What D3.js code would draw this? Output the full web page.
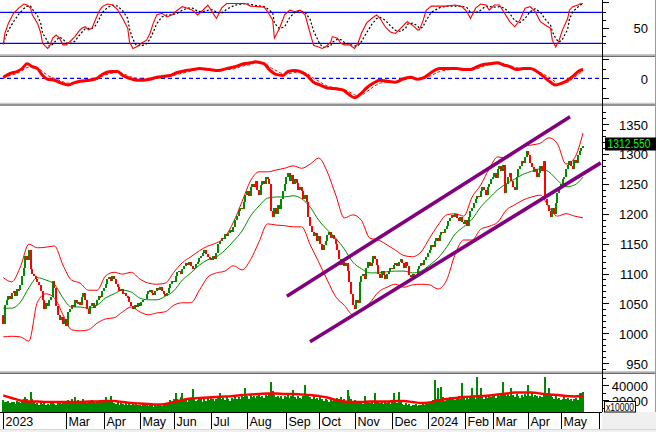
<!DOCTYPE html>
<html><head><meta charset="utf-8">
<script src="https://cdn.jsdelivr.net/npm/d3@7"></script>
<style>
body{margin:0;background:#fff;}
svg{display:block;font-family:"Liberation Sans",Arial,sans-serif;}
</style>
</head><body>
<svg id="c" width="656" height="432"></svg>
<script>
// ---------------- DATA ----------------
// daily closes (bar index 0 = first session of Jan 2023)
const closes = [
1015,1048,1055,1063,1058,1068,1070,1062,1074,1072,
1080,1095,1110,1130,1122,1140,1108,1100,1095,1090,
1085,1080,1070,1055,1040,1050,1046,1055,1060,1088,
1075,1045,1030,1022,1028,1015,1024,1012,1035,1040,
1048,1044,1055,1050,1052,1048,1060,1068,1055,1040,
1032,1045,1050,1042,1048,1055,1062,1060,1070,1075,
1082,1090,1094,1088,1096,1090,1082,1078,1070,1074,
1066,1068,1062,1060,1052,1046,1040,1048,1044,1050,
1046,1052,1055,1058,1066,1070,1072,1068,1064,1070,
1076,1072,1078,1070,1066,1062,1068,1075,1082,1088,
1085,1095,1102,1105,1100,1108,1112,1118,1115,1120,
1112,1108,1110,1116,1120,1126,1130,1135,1140,1132,
1128,1125,1122,1130,1125,1135,1150,1155,1160,1158,
1166,1162,1168,1172,1170,1178,1190,1196,1205,1210,
1208,1220,1232,1238,1230,1245,1250,1245,1255,1240,
1232,1248,1255,1250,1262,1258,1250,1205,1195,1210,
1200,1215,1208,1225,1238,1250,1262,1268,1255,1265,
1250,1258,1252,1240,1245,1238,1225,1232,1220,1195,
1180,1170,1162,1168,1155,1162,1150,1140,1148,1155,
1165,1170,1160,1165,1158,1150,1140,1125,1115,1120,
1112,1118,1105,1085,1065,1048,1040,1055,1050,1085,
1095,1100,1090,1110,1120,1112,1118,1130,1125,1115,
1100,1092,1105,1098,1090,1100,1105,1110,1108,1115,
1118,1112,1120,1125,1118,1110,1120,1112,1098,1094,
1100,1092,1098,1108,1112,1118,1115,1122,1128,1134,
1140,1148,1145,1155,1160,1155,1165,1170,1168,1175,
1180,1188,1192,1198,1195,1200,1192,1188,1195,1186,
1182,1190,1180,1195,1205,1210,1218,1225,1230,1228,
1238,1245,1240,1232,1245,1250,1258,1262,1268,1260,
1275,1280,1272,1282,1235,1250,1262,1268,1255,1245,
1240,1262,1275,1280,1288,1285,1295,1305,1298,1285,
1278,1270,1275,1262,1268,1280,1272,1288,1225,1215,
1205,1195,1210,1200,1218,1235,1245,1250,1258,1262,
1275,1282,1288,1280,1275,1290,1285,1298,1305,1310,
1312.55
];
const firstOpen = 1030;
const lastPrice = 1312.55;

// daily volume, thousands of axis units (axis is x10000)
const volumeK = [
20,18,17,19,16,18,17,15,19,18, 16,20,22,24,21,19,31,22,17,15,
16,14,17,15,16,13,15,14,16,17, 15,14,16,18,15,17,19,18,20,17,
21,19,24,18,20,17,19,21,18,16, 19,17,20,18,16,19,17,20,18,19,
24,20,18,25,19,16,15,17,14,16, 15,13,16,14,15,13,16,14,15,13,
14,12,15,13,14,12,15,13,11,14, 12,13,15,12,14,13,16,18,20,17,
22,29,21,19,24,29,20,22,18,21, 23,35,22,19,20,24,21,18,22,19,
23,20,24,21,19,22,25,29,21,23, 20,24,22,19,23,21,25,22,24,21,
26,24,36,25,22,27,24,26,23,25, 28,24,26,23,27,25,30,44,32,27,
24,26,23,25,22,26,24,27,23,25, 33,24,22,26,23,21,25,40,28,26,
24,22,25,21,23,20,24,21,19,22, 20,18,21,19,22,20,23,21,24,20,
22,19,33,25,21,18,20,17,19,16, 18,15,25,17,19,16,18,15,29,17,
19,16,18,15,17,16,18,15,17,29, 18,16,31,17,15,14,16,13,15,12,
14,13,15,12,14,13,16,14,17,15, 18,16,20,47,22,36,21,38,24,19,
22,20,24,21,23,20,22,25,21,43, 23,20,24,22,26,36,24,22,51,25,
36,24,22,26,23,27,24,28,25,23, 27,25,29,44,30,26,28,25,36,27,
24,28,26,23,27,24,28,25,40,26, 29,24,27,25,23,26,24,28,51,30,
36,27,24,22,25,21,23,20,22,24, 21,23,20,22,19,21,23,20,30,29,
31
];

// indicator samples every 5 sessions
const sampleStep = 5;
const bbUpper = [1093,1086,1111,1149,1143,1144,1146,1114,1089,1084,
1072,1072,1096,1102,1099,1102,1091,1084,1082,1084,
1102,1118,1128,1138,1146,1151,1161,1186,1220,1255,
1270,1270,1273,1276,1280,1276,1283,1293,1270,1231,
1193,1198,1189,1159,1156,1148,1139,1130,1128,1136,
1159,1181,1198,1200,1196,1228,1248,1275,1295,1293,
1303,1312,1315,1318,1327,1317,1283,1293,1335];
const bbMid = [1042,1042,1052,1076,1093,1089,1082,1059,1044,1044,
1042,1047,1059,1066,1072,1069,1059,1056,1056,1062,
1071,1089,1101,1114,1123,1128,1139,1154,1171,1196,
1213,1226,1228,1228,1230,1225,1211,1189,1173,1159,
1141,1119,1108,1101,1101,1103,1104,1104,1101,1104,
1114,1126,1144,1166,1178,1191,1211,1226,1240,1250,
1258,1266,1271,1275,1270,1256,1245,1248,1261];
const bbLower = [994,995,994,987,1052,1066,1059,1031,1006,1004,
1006,1017,1024,1026,1036,1044,1036,1031,1034,1036,
1047,1051,1051,1072,1094,1101,1104,1113,1106,1123,
1153,1183,1181,1180,1178,1178,1148,1119,1089,1061,
1047,1031,1039,1051,1069,1077,1082,1077,1081,1082,
1081,1074,1089,1132,1156,1156,1174,1179,1186,1206,
1215,1223,1228,1231,1211,1196,1200,1196,1193];
const volMA_K = [26.0,22.7,19.3,18.0,18.0,17.3,17.3,17.3,17.3,17.3,
18.0,18.0,18.7,18.7,17.3,16.0,15.3,14.7,14.0,14.7,
17.3,20.0,22.0,22.7,23.3,24.0,24.7,25.3,26.7,27.3,
28.0,28.7,28.7,28.0,28.0,27.3,26.7,25.3,23.3,20.0,
18.0,17.3,17.3,18.0,18.0,18.0,18.7,18.7,17.3,16.0,
16.7,19.3,21.3,22.7,24.0,24.7,25.3,26.0,27.3,28.7,
30.0,30.0,30.0,28.7,27.3,26.7,25.3,24.7,25.3];

// stochastic (%K red, %D black dashed)
const stochIdx = [0,1,3,6,9,12,14,16,17,20,22,23,26,27,29,31,33,35,37,39,
42,44,46,48,50,52,54,56,58,61,64,67,70,73,74,76,78,81,84,86,
88,90,93,96,99,102,105,108,111,114,117,120,123,125,128,131,136,142,145,149,
153,155,158,159,162,165,168,171,174,177,180,182,185,187,189,192,193,196,198,200,
203,206,208,210,213,216,219,221,224,227,230,233,236,237,240,243,244,246,248,251,
256,260,265,269,272,274,277,280,283,285,288,291,294,297,300,303,306,309,312,315,
318,321,322,324,326,328,331,332,334,337,338,340];
const stochK = [18,40,59,78,88,96,94,88,75,59,40,20,10,13,30,36,30,17,17,23,
33,42,49,52,46,49,65,81,91,96,94,85,68,49,23,10,13,20,26,39,
59,75,78,71,75,84,91,88,84,75,84,94,78,68,88,97,97,97,92,91,
90,81,65,30,49,75,84,81,84,75,39,16,13,10,13,22,33,30,20,17,
17,10,20,39,59,68,75,68,52,42,39,49,59,62,55,46,46,62,84,92,
92,92,94,91,81,68,88,96,94,84,94,94,78,62,52,65,88,91,81,62,
55,49,26,13,26,46,68,84,91,94,96,97];
const stochD = [20,30,45,62,76,87,92,92,86,74,58,40,24,14,18,26,32,28,21,19,
24,33,41,48,49,49,54,65,79,89,94,92,83,68,48,28,16,15,19,28,
42,58,71,75,75,78,84,88,88,82,81,84,85,80,78,86,94,97,95,93,
91,87,79,59,48,52,70,80,83,80,66,44,23,13,12,15,22,28,27,22,
18,15,15,23,40,56,68,70,65,54,45,43,49,57,59,54,49,51,64,80,
89,92,92,92,89,80,79,84,92,91,90,91,88,78,64,60,68,81,87,80,
66,55,43,29,22,28,47,66,81,90,94,96];

// MACD
const macdIdx = [0,4,8,11,14,17,20,23,26,30,34,38,41,45,50,55,58,63,67,70,
74,78,82,86,90,94,98,102,107,111,115,121,126,131,136,141,145,148,151,153,
156,160,164,167,171,174,178,182,186,190,196,199,203,206,209,213,217,221,225,230,
234,239,243,247,251,256,262,266,270,274,278,281,285,290,293,297,301,305,309,313,
316,321,324,326,331,334,338,340];
const macdLine = [1,5,7,10,15,12,10,3,-1,-2,-5,-7,-5,-3,-2,0,4,7,7,3,
0,-2,-2,-1,1,2,3,6,8,9,10,9,8,10,12,15,16,17,16,15,
9,4,3,7,8,7,3,-4,-7,-10,-11,-12,-17,-20,-17,-10,-5,-2,-3,-4,
-1,1,-1,1,6,10,10,10,9,9,12,14,15,16,14,12,9,10,10,7,
3,-4,-7,-6,-2,2,8,9];
const macdSignal = [0,3,5,8,11,12,11,7,3,0,-3,-5,-5,-4,-3,-1,2,5,6,5,
2,0,-1,-1,0,1,2,4,6,8,9,9,9,9,10,13,14,16,16,16,
12,8,5,5,6,7,5,0,-4,-8,-10,-11,-14,-17,-18,-14,-9,-5,-4,-4,
-2,0,0,0,3,7,9,10,9,9,10,12,14,15,15,13,11,10,10,8,
5,0,-4,-6,-4,0,5,8];

// trend channel endpoints [bar index, price]
const channelUpper = [[166.3,1062],[332.4,1362]];
const channelLower = [[179.9,986],[350.4,1285]];

// month labels [bar index, label]
const monthIdx = [0,37,59,80,100,122,143,166,185,206,228,249,271,287,308,327];
const monthLabels = ["2023","Mar","Apr","May","Jun","Jul","Aug","Sep","Oct","Nov","Dec","2024","Feb","Mar","Apr","May"];

const priceTicks = [950,1000,1050,1100,1150,1200,1250,1300,1350];
const volTicks = [20000,40000];
const stochLevels = [20,80];

// ---------------- DRAW ----------------
const svg = d3.select("#c");
const AX = 602;
const GREEN = "#008c00", RED = "#ff0000", BLUE = "#0000ff", PURPLE = "#800080";

const x = d3.scaleLinear().domain([0,340]).range([3.3,583]);
const yP = d3.scaleLinear().domain([1000,1350]).range([333.3,124.0]);
const yS = d3.scaleLinear().domain([20,80]).range([43.3,12.3]);
const yM = d3.scaleLinear().domain([-20,20]).range([97.7,58.9]);
const yV = d3.scaleLinear().domain([0,40000]).range([415,385]);

const panels = {
  stoch:{y0:0,y1:54},
  macd:{y0:57.5,y1:103},
  price:{y0:105.5,y1:371},
  vol:{y0:374,y1:412}
};
const defs = svg.append("defs");
Object.entries(panels).forEach(([k,p])=>{
  defs.append("clipPath").attr("id","clip-"+k)
    .append("rect").attr("x",0).attr("y",p.y0).attr("width",AX).attr("height",p.y1-p.y0);
});
const g = k => svg.append("g").attr("clip-path",`url(#clip-${k})`);

// background pieces
svg.append("rect").attr("x",0).attr("y",0).attr("width",656).attr("height",432).attr("fill","#fff");
svg.append("rect").attr("x",AX).attr("y",412).attr("width",656-AX).attr("height",20).attr("fill","#f0f0f0");
svg.append("rect").attr("x",0).attr("y",430).attr("width",656).attr("height",2).attr("fill","#f0f0f0");
svg.append("line").attr("x1",0).attr("x2",656).attr("y1",429.5).attr("y2",429.5).attr("stroke","#d8d8d8");

// ---- Stochastic panel
const gs = g("stoch");
stochLevels.forEach(v=>{
  gs.append("line").attr("x1",0).attr("x2",AX).attr("y1",yS(v)).attr("y2",yS(v))
    .attr("stroke",BLUE).attr("stroke-width",1.3);
});
const stLine = arr => d3.line().x((d,i)=>x(stochIdx[i])).y(d=>yS(d)).curve(d3.curveLinear)(arr);
gs.append("path").attr("d",stLine(stochD)).attr("fill","none").attr("stroke","#000").attr("stroke-width",1.2).attr("stroke-dasharray","2,2");
gs.append("path").attr("d",stLine(stochK)).attr("fill","none").attr("stroke",RED).attr("stroke-width",1.1);

// ---- MACD panel
const gm = g("macd");
gm.append("line").attr("x1",0).attr("x2",AX).attr("y1",yM(0)).attr("y2",yM(0))
  .attr("stroke",BLUE).attr("stroke-width",1.3).attr("stroke-dasharray","4,3");
const mLine = arr => d3.line().x((d,i)=>x(macdIdx[i])).y(d=>yM(d)).curve(d3.curveMonotoneX)(arr);
gm.append("path").attr("d",mLine(macdSignal)).attr("fill","none").attr("stroke",RED).attr("stroke-width",1).attr("stroke-dasharray","3,2");
gm.append("path").attr("d",mLine(macdLine)).attr("fill","none").attr("stroke",RED).attr("stroke-width",3);

// ---- Price panel
const gp = g("price");
const bandLine = d3.line().x((d,i)=>x(i*sampleStep)).y(d=>yP(d)).curve(d3.curveMonotoneX);
gp.append("path").attr("d",bandLine(bbUpper)).attr("fill","none").attr("stroke",RED).attr("stroke-width",1);
gp.append("path").attr("d",bandLine(bbLower)).attr("fill","none").attr("stroke",RED).attr("stroke-width",1);
gp.append("path").attr("d",bandLine(bbMid)).attr("fill","none").attr("stroke",GREEN).attr("stroke-width",1);

const opens = closes.map((c,i)=> i===0 ? firstOpen : closes[i-1]);
gp.selectAll("rect.candle").data(closes).join("rect").attr("class","candle")
  .attr("x",(d,i)=>Math.round(x(i))-1).attr("width",2)
  .attr("y",(d,i)=>Math.min(yP(d),yP(opens[i])))
  .attr("height",(d,i)=>Math.max(1.5,Math.abs(yP(d)-yP(opens[i]))))
  .attr("fill",(d,i)=> d>=opens[i] ? GREEN : RED)
  .attr("shape-rendering","crispEdges");

[channelUpper,channelLower].forEach(ch=>{
  gp.append("line").attr("x1",x(ch[0][0])).attr("y1",yP(ch[0][1]))
    .attr("x2",x(ch[1][0])).attr("y2",yP(ch[1][1]))
    .attr("stroke",PURPLE).attr("stroke-width",3.6).attr("stroke-linecap","butt");
});

// ---- Volume panel
const gv = g("vol");
gv.selectAll("rect.vol").data(volumeK).join("rect").attr("class","vol")
  .attr("x",(d,i)=>Math.round(x(i))-1).attr("width",2)
  .attr("y",d=>yV(d*1000)).attr("height",d=>Math.max(0,412-yV(d*1000)))
  .attr("fill","#008800").attr("shape-rendering","crispEdges");
gv.append("path").attr("d",d3.line().x((d,i)=>x(i*sampleStep)).y(d=>yV(d*1000)).curve(d3.curveMonotoneX)(volMA_K))
  .attr("fill","none").attr("stroke",RED).attr("stroke-width",2.4);

// ---- panel separators
[[54.5,56.3],[103.3,105],[371.6,373.3]].forEach(([a,b])=>{
  svg.append("line").attr("x1",0).attr("x2",656).attr("y1",a).attr("y2",a).attr("stroke","#c8c8c8").attr("stroke-width",1.2);
  svg.append("line").attr("x1",0).attr("x2",656).attr("y1",b).attr("y2",b).attr("stroke","#6e6e6e").attr("stroke-width",1.4);
});
// right border
svg.append("line").attr("x1",655.5).attr("x2",655.5).attr("y1",0).attr("y2",412).attr("stroke","#9a9a9a");

// ---- right axis
const axisG = svg.append("g").attr("stroke","#000").attr("shape-rendering","crispEdges");
axisG.append("line").attr("x1",AX+0.5).attr("x2",AX+0.5).attr("y1",0).attr("y2",412);
function ticks(scale, vals, len, y0, y1){
  vals.forEach(v=>{
    const yy = Math.round(scale(v))+0.5;
    if (yy<y0||yy>y1) return;
    axisG.append("line").attr("x1",AX).attr("x2",AX+len).attr("y1",yy).attr("y2",yy);
  });
}
ticks(yP, d3.range(940,1371,10).filter(v=>v%50!==0), 4, 106, 370);
ticks(yP, priceTicks, 7, 106, 370);
ticks(yS, [0,100], 7, 0, 54); ticks(yS,[50],7,0,54); ticks(yS,[20,35,65,80],4,0,54);
ticks(yM, [-20,0,20], 7, 57, 103); ticks(yM,[-10,10],4,57,103);
ticks(yV, [10000,30000,50000], 4, 374, 412); ticks(yV, volTicks, 7, 374, 412);

const lab = (txt,yy,size)=> svg.append("text").attr("x",648).attr("y",yy).attr("text-anchor","end")
  .attr("dominant-baseline","central").attr("font-size",size||13).attr("fill","#000").text(txt);
priceTicks.forEach(v=>lab(v, yP(v)+1));
lab("50", yS(50)+1);
lab("0", yM(0)+1);
volTicks.forEach(v=>lab(v, yV(v)+1));

// multiplier box
svg.append("rect").attr("x",604.5).attr("y",401.5).attr("width",31).attr("height",10.5).attr("fill","#fff").attr("stroke","#000");
svg.append("text").attr("x",606).attr("y",407).attr("dominant-baseline","central").attr("font-size",10)
  .attr("textLength",28).attr("lengthAdjust","spacingAndGlyphs").text("x10000");

// last price box
svg.append("rect").attr("x",605).attr("y",137.5).attr("width",51).attr("height",13).attr("fill","#000");
svg.append("text").attr("x",607.5).attr("y",144.3).attr("dominant-baseline","central").attr("font-size",12)
  .attr("fill","#00ff00").attr("textLength",43).attr("lengthAdjust","spacingAndGlyphs").text(lastPrice.toFixed(3));

// ---- x axis
const xa = svg.append("g").attr("shape-rendering","crispEdges");
xa.append("line").attr("x1",0).attr("x2",AX).attr("y1",412.5).attr("y2",412.5).attr("stroke","#000");
monthIdx.forEach((mi,k)=>{
  const xx = Math.round(x(mi))+0.5;
  xa.append("line").attr("x1",xx).attr("x2",xx).attr("y1",412).attr("y2",429).attr("stroke","#000");
  svg.append("text").attr("x",xx+2).attr("y",422).attr("dominant-baseline","central")
    .attr("font-size",12.5).attr("fill","#000").text(monthLabels[k]);
});
xa.append("line").attr("x1",599.5).attr("x2",599.5).attr("y1",412).attr("y2",429).attr("stroke","#000");
</script>
</body></html>
